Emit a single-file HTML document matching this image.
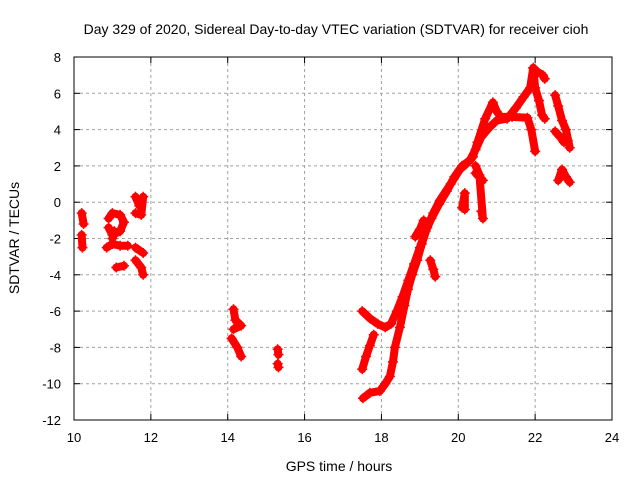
<!DOCTYPE html>
<html><head><meta charset="utf-8"><style>
body{margin:0;background:#fff;font-family:"Liberation Sans",sans-serif}
svg text{font-family:"Liberation Sans",sans-serif;font-size:13px;fill:#000}
</style></head><body>
<svg id="c" width="640" height="480">
<text x="336" y="34" text-anchor="middle" style="font-size:14px">Day 329 of 2020, Sidereal Day-to-day VTEC variation (SDTVAR) for receiver cioh</text>
<text x="339" y="471" text-anchor="middle" style="font-size:14px">GPS time / hours</text>
<text transform="translate(19,238) rotate(-90)" text-anchor="middle" style="font-size:14px">SDTVAR / TECUs</text>
<g id="grid"></g><g id="marks"></g>
<rect x="74" y="57" width="538" height="363" fill="none" stroke="#000"/>
</svg>
<script>
const xTicks=[10,12,14,16,18,20,22,24];
const yTicks=[-12,-10,-8,-6,-4,-2,0,2,4,6,8];
const tracks=[
[[17.52,-10.8],[17.7,-10.5],[17.96,-10.4],[18.1,-10.0],[18.22,-9.6],[18.3,-8.8],[18.35,-8.0],[18.48,-6.9],[18.6,-5.7],[18.69,-4.8],[18.8,-4.0],[18.93,-3.2],[19.05,-2.3],[19.19,-1.4],[19.35,-0.6],[19.52,0.1],[19.8,1.0],[20.04,1.8],[20.2,2.1],[20.38,2.5],[20.5,3.3],[20.7,4.6],[20.9,5.5],[21.0,5.0],[21.1,4.7],[21.4,4.7],[21.8,4.65],[21.9,4.0],[22.0,2.8]],
[[17.5,-6.0],[17.7,-6.4],[17.9,-6.7],[18.1,-6.9],[18.25,-6.7],[18.4,-6.0],[18.55,-5.2],[18.7,-4.3],[18.85,-3.4],[19.0,-2.5],[19.15,-1.6],[19.3,-0.9],[19.5,-0.1],[19.7,0.6],[19.9,1.4],[20.1,2.0],[20.3,2.3],[20.45,2.9],[20.6,3.6],[20.8,4.1],[21.0,4.5],[21.27,4.6],[21.5,5.2],[21.7,5.8],[21.87,6.3],[21.95,7.4],[22.05,7.2],[22.2,7.0],[22.25,6.8]],
[[17.5,-9.2],[17.6,-8.5],[17.7,-7.9],[17.8,-7.3]],
[[21.95,7.4],[22.0,6.3],[22.1,5.6],[22.18,4.8],[22.25,4.6]],
[[19.27,-3.2],[19.35,-3.7],[19.4,-4.1]],
[[20.1,-0.3],[20.17,0.5],[20.17,-0.4]],
[[20.45,2.0],[20.55,1.5],[20.64,-0.9],[20.6,-0.5]],
[[20.45,1.6],[20.64,1.2]],
[[18.88,-1.9],[19.0,-1.5],[19.1,-1.0]],
[[22.52,5.9],[22.6,5.3],[22.7,4.5],[22.8,4.0],[22.9,3.0]],
[[22.52,3.9],[22.65,3.6],[22.75,3.3],[22.85,3.4]],
[[22.6,1.2],[22.7,1.8],[22.8,1.4],[22.9,1.1]],
[[10.2,-0.6],[10.25,-1.2]],[[10.2,-1.8],[10.22,-2.5]],
[[10.9,-0.9],[11.0,-0.6],[11.2,-0.7],[11.3,-1.1],[11.2,-1.6],[11.0,-1.8],[10.9,-1.4]],
[[11.0,-2.0],[11.05,-1.6]],
[[10.85,-2.5],[11.0,-2.3],[11.2,-2.4],[11.4,-2.4]],
[[11.1,-3.6],[11.3,-3.5]],
[[11.6,0.3],[11.7,-0.2],[11.8,0.3],[11.75,-0.7],[11.6,-0.6]],
[[11.6,-2.5],[11.8,-2.8]],[[11.6,-3.2],[11.75,-3.6],[11.8,-4.0]],
[[14.15,-5.9],[14.2,-6.5],[14.35,-6.8],[14.15,-7.0]],
[[14.1,-7.5],[14.25,-8.0],[14.35,-8.5]],
[[15.3,-8.1],[15.32,-8.4]],[[15.3,-8.9],[15.32,-9.1]]
];
const X=h=>74+(h-10)*538/14, Y=v=>57+(8-v)*363/20;
const NS="http://www.w3.org/2000/svg";
const svg=document.getElementById('c'),grid=document.getElementById('grid'),marks=document.getElementById('marks');
function mk(t,a,p){const e=document.createElementNS(NS,t);for(const k in a)e.setAttribute(k,a[k]);p.appendChild(e);return e;}
xTicks.forEach(t=>{const x=X(t);
 if(t>10&&t<24){const l=mk('line',{x1:x,x2:x,y1:57,y2:420,stroke:'#a0a0a0','stroke-dasharray':'3,3'},grid);
 
 }
 mk('line',{x1:x,x2:x,y1:420,y2:414,stroke:'#000'},grid);mk('line',{x1:x,x2:x,y1:57,y2:63,stroke:'#000'},grid);
 const tx=mk('text',{x:x,y:442,'text-anchor':'middle'},grid);tx.textContent=t;
 
 });
yTicks.forEach(t=>{const y=Y(t);
 if(t>-12&&t<8){const l=mk('line',{x1:74,x2:612,y1:y,y2:y,stroke:'#a0a0a0','stroke-dasharray':'3,3'},grid);
 
 }
 mk('line',{x1:74,x2:80,y1:y,y2:y,stroke:'#000'},grid);mk('line',{x1:612,x2:606,y1:y,y2:y,stroke:'#000'},grid);
 const tx=mk('text',{x:61,y:y+5,'text-anchor':'end'},grid);tx.textContent=t;
 
 });
tracks.forEach(tr=>{
 const pl=mk('polyline',{points:tr.map(p=>X(p[0])+','+Y(p[1])).join(' '),fill:'none',stroke:'#f00','stroke-width':8,'stroke-linejoin':'round','stroke-linecap':'round'},marks);
 
 
 tr.forEach(p=>{const x=X(p[0]),y=Y(p[1]);
  const m=mk('path',{d:`M${x-5},${y}h10M${x},${y-5}v10`,stroke:'#f00','stroke-width':1.5},marks);
  
  });
});
</script>
</body></html>
